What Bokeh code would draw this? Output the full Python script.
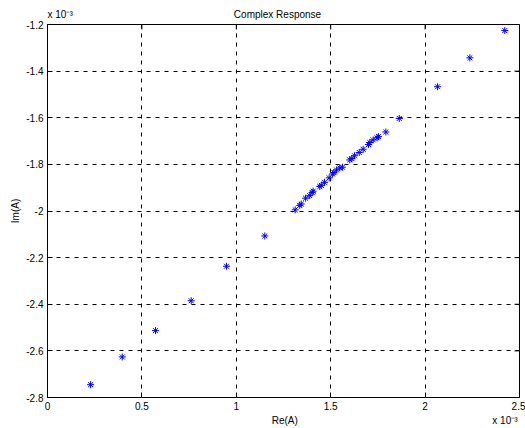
import math
from bokeh.plotting import figure
from bokeh.models import Range1d, FixedTicker, CustomJSTickFormatter
from bokeh.embed import file_html
from bokeh.resources import INLINE

# values in units of 1e-3
re_a = [0.228, 0.396, 0.572, 0.761, 0.948, 1.151,
        1.312, 1.336, 1.344, 1.367, 1.389, 1.402, 1.407, 1.442, 1.450, 1.467,
        1.492, 1.510, 1.517, 1.531, 1.548, 1.562, 1.601, 1.612, 1.626, 1.651,
        1.672, 1.700, 1.707, 1.725, 1.746, 1.753, 1.792, 1.863,
        2.066, 2.237, 2.422]
im_a = [-2.745, -2.626, -2.513, -2.385, -2.237, -2.107,
        -1.995, -1.976, -1.970, -1.945, -1.934, -1.921, -1.915, -1.895, -1.890, -1.877,
        -1.858, -1.841, -1.835, -1.824, -1.815, -1.812, -1.781, -1.775, -1.763, -1.749,
        -1.735, -1.715, -1.706, -1.695, -1.686, -1.681, -1.661, -1.603,
        -1.467, -1.343, -1.226]
x_ticks = [0, 0.5, 1, 1.5, 2, 2.5]
y_ticks = [-2.8, -2.6, -2.4, -2.2, -2.0, -1.8, -1.6, -1.4, -1.2]

TITLE = "Complex Response"
X_LABEL = "Re(A)"
Y_LABEL = "Im(A)"
EXPONENT = "x 10\u207b\u00b3"
NB = "\u00a0"

FONT = "Liberation Sans"
X0, X1 = x_ticks[0], x_ticks[-1]
Y0, Y1 = y_ticks[0], y_ticks[-1]

p = figure(width=525, height=428, output_backend="svg", toolbar_location=None,
           x_range=Range1d(X0, X1), y_range=Range1d(Y0, Y1),
           min_border_left=47, min_border_right=6, min_border_top=24, min_border_bottom=31,
           title=EXPONENT + NB * 58 + TITLE)
p.title.align = "left"
p.title.text_font = FONT
p.title.text_font_size = "10px"
p.title.text_font_style = "normal"
p.title.text_color = "black"
p.title.standoff = 10

p.outline_line_color = "black"
p.outline_line_width = 1

fmt = CustomJSTickFormatter(code="return String(Math.round(tick*10)/10);")

for ax, ticks in ((p.xaxis[0], x_ticks), (p.yaxis[0], y_ticks)):
    ax.ticker = FixedTicker(ticks=ticks)
    ax.formatter = fmt
    ax.major_tick_in = 5
    ax.major_tick_out = 0
    ax.minor_tick_in = 0
    ax.minor_tick_out = 0
    ax.axis_line_color = "black"
    ax.major_tick_line_color = "black"
    ax.major_label_text_font = FONT
    ax.major_label_text_font_size = "10px"
    ax.major_label_text_color = "black"
    ax.axis_label_text_font = FONT
    ax.axis_label_text_font_size = "10px"
    ax.axis_label_text_font_style = "normal"
    ax.axis_label_text_color = "black"
    ax.major_label_standoff = 4
    ax.axis_label_standoff = 2

# exponent shares the row of the x-axis label, at the right end
p.xaxis[0].axis_label = NB * 80 + X_LABEL + NB * 70 + EXPONENT
p.yaxis[0].axis_label = Y_LABEL

p.xgrid.ticker = FixedTicker(ticks=x_ticks)
p.ygrid.ticker = FixedTicker(ticks=y_ticks)
for g in (p.xgrid[0], p.ygrid[0]):
    g.grid_line_color = "black"
    g.grid_line_dash = "4 5"
    g.grid_line_width = 1
    g.grid_line_alpha = 1

# box ticks on top and right edges (half of each dash is clipped away by the frame)
p.scatter(x_ticks, [Y1] * len(x_ticks), marker="dash", angle=math.pi / 2, size=10,
          line_color="black", line_width=1)
p.scatter([X1] * len(y_ticks), y_ticks, marker="dash", size=10,
          line_color="black", line_width=1)

p.scatter(re_a, im_a, marker="asterisk", size=7, line_color="blue", line_width=1)

open("out.html", "w").write(file_html(p, INLINE))
